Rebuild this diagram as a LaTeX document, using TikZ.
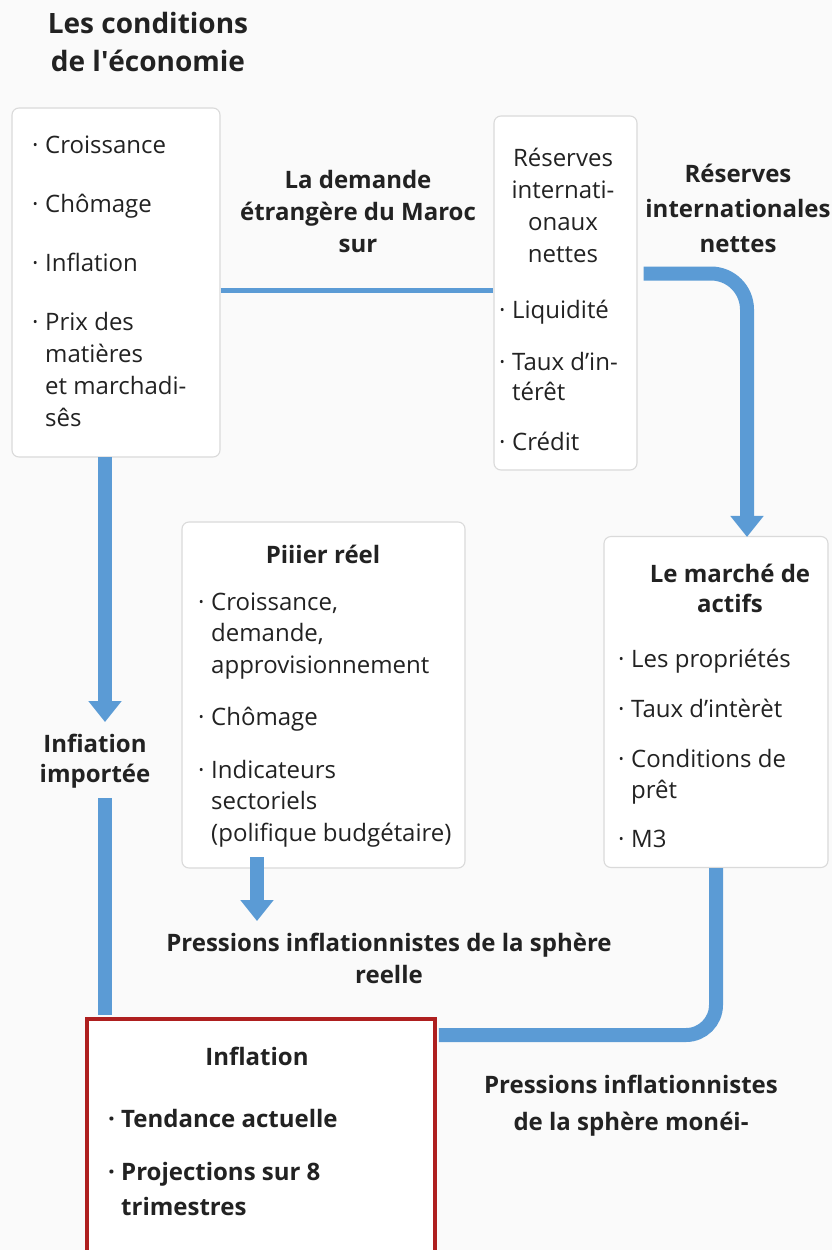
\documentclass[tikz,border=0pt]{standalone}
\usepackage{fontspec}
\setmainfont{Open Sans}
\usepackage{xcolor}
\definecolor{flowblue}{HTML}{5B9BD5}
\definecolor{brick}{HTML}{AE1F1F}
\definecolor{rim}{HTML}{DADADA}
\definecolor{ink}{HTML}{222222}
\definecolor{paper}{HTML}{FAFAFA}
\usepackage{tikz}
\usetikzlibrary{arrows.meta,positioning,calc}
\newcommand{\bl}{\makebox[13pt][l]{\textperiodcentered}}
\newcommand{\ind}{\hspace*{13pt}}
\tikzset{
  >={Triangle[width=32pt,length=21pt]},
  box/.style   ={draw=rim,fill=white,rounded corners=7pt,line width=1.1pt,inner sep=0pt},
  hotbox/.style={draw=brick,fill=white,line width=3.5pt,inner sep=0pt},
  lst/.style   ={font=\fontsize{24}{31}\selectfont,text=ink,inner sep=0pt,
                 align=left,anchor=base west},
  lbl/.style   ={font=\fontsize{24}{30}\selectfont\bfseries,text=ink,inner sep=0pt,
                 align=center,anchor=base},
  pipe/.style  ={draw=flowblue,line width=14pt,rounded corners=36pt},
  flow/.style  ={pipe,->},
  link/.style  ={draw=flowblue,line width=5pt},
}

\begin{document}
\begin{tikzpicture}[x=1pt,y=-1pt]
\path[use as bounding box,fill=paper] (0,0) rectangle (832,1250);
% title (base = last line)
\node[lbl,font=\fontsize{28}{38}\selectfont\bfseries] (title) at (148,71)
  {Les conditions\\de l\textquotesingle économie};
% economic conditions
\node[box,minimum width=208,minimum height=349] (conds) at (116,282.5) {};
\node[lst,font=\fontsize{24}{32}\selectfont] (conds-txt) at (32,426)
  {\bl Croissance\\[27pt]
   \bl Chômage\\[27pt]
   \bl Inflation\\[27pt]
   \bl Prix des\\ \ind matières\\ \ind et marchadi-\\ \ind sês};
\node[lbl,font=\fontsize{24}{32}\selectfont\bfseries] (demand) at (358,252)
  {La demande\\étrangère du Maroc\\sur};
% reserves
\node[box,minimum width=143,minimum height=354] (resv) at (565.5,293) {};
\node[lst,font=\fontsize{24}{32}\selectfont,align=center,anchor=base] (resv-head) at (563,262)
  {Réserves\\internati-\\onaux\\nettes};
\node[lst,font=\fontsize{24}{30}\selectfont] (resv-txt) at (499,450)
  {\bl Liquidité\\[22pt]
   \bl Taux d'in-\\ \ind térêt\\[20pt]
   \bl Crédit};
\node[lbl,font=\fontsize{24}{35}\selectfont\bfseries] (nir) at (738,252)
  {Réserves\\internationales\\nettes};
% asset market
\node[box,minimum width=224,minimum height=331] (mkt) at (716,702) {};
\node[lbl] (mkt-head) at (730,612) {Le marché de\\actifs};
\node[lst] (mkt-txt) at (618,847)
  {\bl Les propriétés\\[19pt]
   \bl Taux d'intèrèt\\[19pt]
   \bl Conditions de\\ \ind prêt\\[18pt]
   \bl M3};
% real pillar
\node[box,minimum width=283,minimum height=346] (pil) at (323.5,695) {};
\node[lbl] (pil-head) at (323,563) {Piiier réel};
\node[lst,font=\fontsize{24}{31.5}\selectfont] (pil-txt) at (198,841)
  {\bl Croissance,\\ \ind demande,\\ \ind approvisionnement\\[21pt]
   \bl Chômage\\[21pt]
   \bl Indicateurs\\ \ind sectoriels\\ \ind (polifique budgétaire)};
\node[lbl] (imp) at (95,782) {Infiation\\importée};
\node[lbl,font=\fontsize{24}{32}\selectfont\bfseries] (reel) at (389,983)
  {Pressions inflationnistes de la sphère\\reelle};
% inflation
\node[hotbox,minimum width=348,minimum height=240] (infl) at (261,1139) {};
\node[lbl] (infl-head) at (257,1065) {Inflation};
\node[lst,font=\fontsize{24}{35}\selectfont\bfseries] (infl-txt) at (108,1215)
  {\bl Tendance actuelle\\[18pt]
   \bl Projections sur 8\\ \ind trimestres};
\node[lbl,font=\fontsize{24}{37}\selectfont\bfseries] (mon) at (631,1130)
  {Pressions inflationnistes\\de la sphère monéi-};
% connectors
\coordinate (demand-in) at ($(conds.east)+(0,7.5)$);
\draw[link] (demand-in) -- (demand-in -| resv.west);
\coordinate (resv-out) at ($(resv.east)+(6,-19.5)$);
\coordinate (mkt-in) at ($(mkt.north)+(31,1)$);
\draw[flow] (resv-out) -- (resv-out -| mkt-in) -- (mkt-in);
\coordinate (conds-out) at (105,457);
\coordinate (imp-in) at (105,722);
\draw[flow] (conds-out) -- (imp-in);
\coordinate (imp-out) at (105,798);
\draw[pipe,shorten >=2pt] (imp-out) -- (imp-out |- infl.north);
\coordinate (pil-out) at (257,857);
\coordinate (reel-in) at (257,921);
\draw[flow] (pil-out) -- (reel-in);
\coordinate (mon-turn) at (716,1035);
\draw[pipe,rounded corners=30pt,shorten >=2pt] (mkt.south) -- (mon-turn) -- (mon-turn -| infl.east);
\end{tikzpicture}
\end{document}
